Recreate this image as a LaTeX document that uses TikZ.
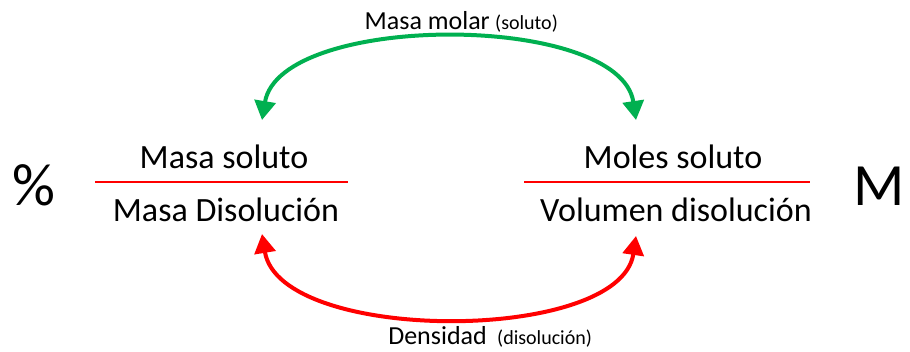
\documentclass[tikz,border=0pt]{standalone}
\usepackage{fontspec}
\setmainfont{Carlito}
\usetikzlibrary{arrows.meta,positioning}
\definecolor{vivo}{RGB}{0,176,80}
\definecolor{rojo}{RGB}{255,0,0}

\begin{document}
\begin{tikzpicture}[x=1pt,y=-1pt,
  term/.style={anchor=base,inner sep=0pt,font=\fontsize{34}{34}\selectfont},
  big/.style={anchor=base,inner sep=0pt,font=\fontsize{60}{60}\selectfont},
  lab/.style={anchor=base,inner sep=0pt,font=\fontsize{26}{26}\selectfont},
  sublab/.style={anchor=base west,inner sep=0pt,font=\fontsize{20}{20}\selectfont},
  rule/.style={rojo,line width=2pt},
  conv/.style={line width=4pt,{Triangle[width=21pt,length=19pt]}-{Triangle[width=21pt,length=19pt]}}]
  \useasboundingbox (0,0) rectangle (910,351);
  % fractions
  \node [term] (ms) at (224,168) {Masa soluto};
  \node [term] (md) at (226,221) {Masa Disolución};
  \node [term] (ns) at (673,168) {Moles soluto};
  \node [term] (vd) at (676,221) {Volumen disolución};
  \draw [rule] (95,182) -- (348,182);
  \draw [rule] (524,182) -- (810,182);
  \node [big] (pc) at (34,205) {\%};
  \node [big] (mm) at (879,205) {M};
  % labels
  \node [lab,anchor=base east] (mw) at (490,29) {Masa molar};
  \node [sublab] (mws) at (495,29) {(soluto)};
  \node [lab,anchor=base east] (de) at (487,344) {Densidad};
  \node [sublab] (des) at (497,344) {(disolución)};
  % conversions
  \coordinate (gl) at (262,120);
  \coordinate (gr) at (636,120);
  \coordinate (rl) at (262,234);
  \coordinate (rr) at (636,236);
  \draw [conv,vivo] (gl) .. controls (280,12) and (620,12) .. (gr);
  \draw [conv,rojo] (rl) .. controls (280,344) and (620,344) .. (rr);
\end{tikzpicture}
\end{document}
